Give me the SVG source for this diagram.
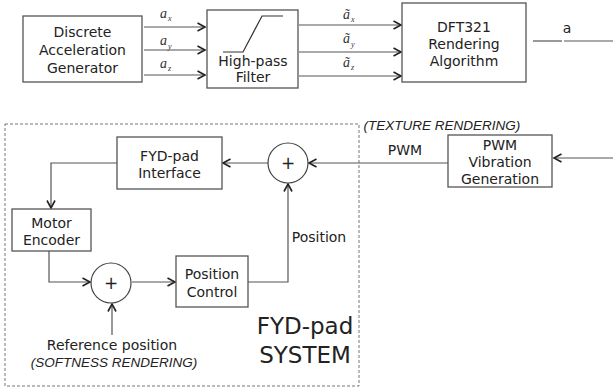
<svg xmlns="http://www.w3.org/2000/svg" width="613" height="392" viewBox="0 0 613 392">
<defs>
<marker id="arr" markerUnits="userSpaceOnUse" markerWidth="12" markerHeight="12" refX="8.5" refY="5" orient="auto">
<path d="M1,1 L8.5,5 L1,9" fill="none" stroke="#222" stroke-width="1.6"/>
</marker>
</defs>
<style>
.box{fill:#fff;stroke:#555;stroke-width:1.3}
.t{font-family:"DejaVu Sans",sans-serif;font-size:14px;fill:#222;text-anchor:middle}
.it{font-family:"Liberation Sans",Arial,sans-serif;font-style:italic;font-size:13.5px;fill:#222;text-anchor:middle}
.m{font-family:"Liberation Serif",serif;font-style:italic;font-size:14px;fill:#333}
.s{font-size:8px}
.ln{fill:none;stroke:#555;stroke-width:1.2}
.big{font-family:"DejaVu Sans",sans-serif;font-size:23px;fill:#222;text-anchor:middle}
</style>
<rect x="0" y="0" width="613" height="392" fill="#fff"/>

<g id="dashed-system">
<rect x="5" y="124" width="354" height="262" fill="none" stroke="#777" stroke-width="1" stroke-dasharray="3,2"/>
</g>

<g id="connectors">
<line class="ln" x1="144" y1="27" x2="205" y2="27" marker-end="url(#arr)"/>
<line class="ln" x1="144" y1="50" x2="205" y2="50" marker-end="url(#arr)"/>
<line class="ln" x1="144" y1="75" x2="205" y2="75" marker-end="url(#arr)"/>
<line class="ln" x1="299" y1="25" x2="401" y2="25" marker-end="url(#arr)"/>
<line class="ln" x1="299" y1="52" x2="401" y2="52" marker-end="url(#arr)"/>
<line class="ln" x1="299" y1="76" x2="401" y2="76" marker-end="url(#arr)"/>
<line class="ln" x1="533" y1="41" x2="562" y2="41"/>
<line class="ln" x1="564" y1="41" x2="613" y2="41"/>
<line class="ln" x1="613" y1="158" x2="554" y2="158" marker-end="url(#arr)"/>
<line class="ln" x1="448" y1="163" x2="309" y2="163" marker-end="url(#arr)"/>
<line class="ln" x1="268" y1="163" x2="223" y2="163" marker-end="url(#arr)"/>
<polyline class="ln" points="117,163 51,163 51,208" marker-end="url(#arr)"/>
<polyline class="ln" points="49,251 49,282 90,282" marker-end="url(#arr)"/>
<line class="ln" x1="132" y1="282" x2="175" y2="282" marker-end="url(#arr)"/>
<polyline class="ln" points="248,282 288,282 288,184" marker-end="url(#arr)"/>
<line class="ln" x1="112" y1="335" x2="112" y2="304" marker-end="url(#arr)"/>
</g>

<g id="labels">
<text class="m" x="160" y="18">a<tspan class="s" dx="1" dy="3">x</tspan></text>
<text class="m" x="160" y="45">a<tspan class="s" dx="1" dy="4">y</tspan></text>
<text class="m" x="160" y="68">a<tspan class="s" dx="1" dy="3">z</tspan></text>
<text class="m" x="343" y="19">ã<tspan class="s" dx="1" dy="3">x</tspan></text>
<text class="m" x="343" y="43">ã<tspan class="s" dx="1" dy="4">y</tspan></text>
<text class="m" x="343" y="67">ã<tspan class="s" dx="1" dy="3">z</tspan></text>
<text class="t" x="567" y="33">a</text>
<text class="t" x="405" y="155">PWM</text>
<text class="t" x="319" y="242">Position</text>
<text class="it" x="442" y="130">(TEXTURE RENDERING)</text>
<text class="t" x="112" y="350">Reference position</text>
<text class="it" x="114" y="367">(SOFTNESS RENDERING)</text>
<text class="big" x="305" y="334">FYD-pad</text>
<text class="big" x="305" y="363">SYSTEM</text>
</g>

<g id="discrete-acc-gen">
<rect class="box" x="23" y="16" width="119" height="66"/>
<text class="t" x="82.5" y="37">Discrete</text>
<text class="t" x="82.5" y="55">Acceleration</text>
<text class="t" x="82.5" y="73">Generator</text>
</g>

<g id="high-pass-filter">
<rect class="box" x="207" y="10" width="91" height="78"/>
<polyline points="223,52 243,52 262,16 283,16" fill="none" stroke="#333" stroke-width="1.2"/>
<text class="t" x="253" y="66">High-pass</text>
<text class="t" x="253" y="82">Filter</text>
</g>

<g id="dft321">
<rect class="box" x="402" y="3" width="124" height="79"/>
<text class="t" x="464" y="32">DFT321</text>
<text class="t" x="464" y="49">Rendering</text>
<text class="t" x="464" y="66">Algorithm</text>
</g>

<g id="pwm-vibration">
<rect class="box" x="448" y="135" width="104" height="52"/>
<text class="t" x="500" y="150">PWM</text>
<text class="t" x="500" y="167">Vibration</text>
<text class="t" x="500" y="184">Generation</text>
</g>

<g id="sum-top">
<circle cx="288" cy="163" r="20" fill="#fff" stroke="#444" stroke-width="1.2"/>
<text class="t" x="288" y="169" style="font-size:17px">+</text>
</g>

<g id="fyd-pad-interface">
<rect class="box" x="117" y="137" width="105" height="52"/>
<text class="t" x="169.5" y="161">FYD-pad</text>
<text class="t" x="169.5" y="178">Interface</text>
</g>

<g id="motor-encoder">
<rect class="box" x="12" y="209" width="79" height="42"/>
<text class="t" x="51.5" y="228">Motor</text>
<text class="t" x="51.5" y="245">Encoder</text>
</g>

<g id="sum-bottom">
<circle cx="111" cy="283" r="20" fill="#fff" stroke="#444" stroke-width="1.2"/>
<text class="t" x="111" y="289" style="font-size:17px">+</text>
</g>

<g id="position-control">
<rect class="box" x="176" y="256" width="72" height="51"/>
<text class="t" x="212" y="279">Position</text>
<text class="t" x="212" y="297">Control</text>
</g>
</svg>
